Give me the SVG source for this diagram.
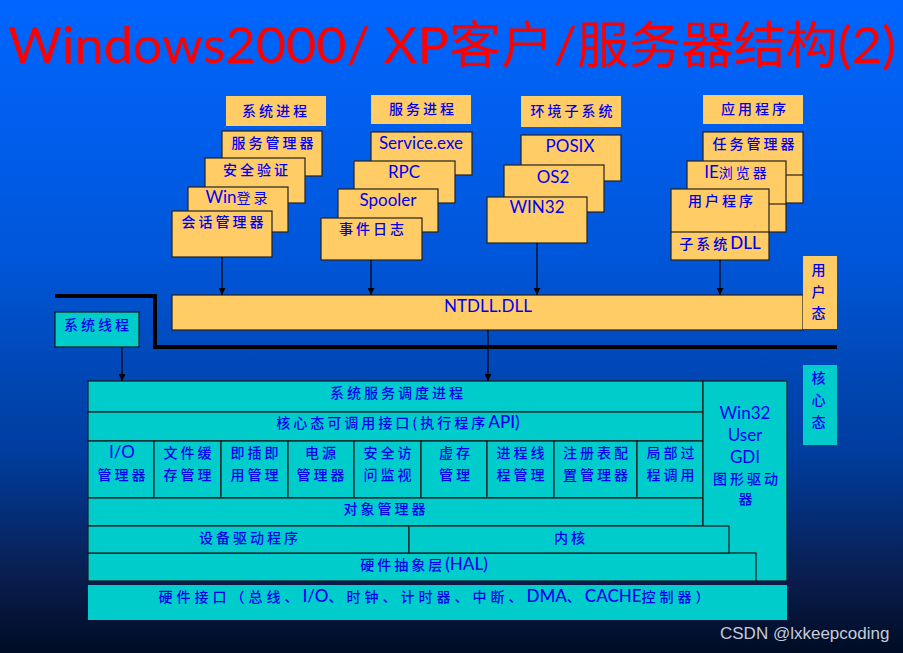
<svg xmlns="http://www.w3.org/2000/svg" width="903" height="653" viewBox="0 0 903 653">
<defs>
<linearGradient id="bg" x1="0" y1="0" x2="0" y2="1">
<stop offset="0" stop-color="#0066ff"/>
<stop offset="0.4" stop-color="#0056d8"/>
<stop offset="0.7" stop-color="#003c9c"/>
<stop offset="0.88" stop-color="#0a1e50"/>
<stop offset="1" stop-color="#000c24"/>
</linearGradient>
<marker id="arr" viewBox="0 0 10 10" refX="10" refY="5" markerWidth="7" markerHeight="7" orient="auto" markerUnits="userSpaceOnUse">
<path d="M0,0 L10,5 L0,10 Z" fill="#000"/>
</marker>
<style>
.y{fill:#ffcc66;stroke:#222;stroke-width:1.2}
.h{fill:#ffcc66}
.c{fill:#00cccc;stroke:#1a1a1a;stroke-width:1.2}
.cn{fill:#00cccc}
.zh{font-family:"Noto Sans CJK SC",sans-serif;font-size:14px;fill:#0000ee;text-anchor:middle;letter-spacing:3px;font-weight:500}
.en{font-family:"Lato","Liberation Sans","Noto Sans CJK SC",sans-serif;font-size:17px;fill:#0000ee;text-anchor:middle}
.lt{font-family:"Lato","Liberation Sans",sans-serif;font-size:17px;letter-spacing:0}
.ln{stroke:#000;stroke-width:1.2;fill:none}
</style>
</defs>
<rect width="903" height="653" fill="url(#bg)"/>
<text x="8" y="63" font-family="Lato,'Liberation Sans','Noto Sans CJK SC',sans-serif" font-size="50" fill="#ff0000" textLength="888" lengthAdjust="spacingAndGlyphs">Windows2000/ XP客户/服务器结构(2)</text>

<g id="sysproc">
<rect class="h" x="226" y="96" width="100" height="30"/>
<text class="zh" x="276" y="116">系统进程</text>
<rect class="y" x="222" y="131" width="100" height="45"/>
<text class="zh" x="274" y="148">服务管理器</text>
<rect class="y" x="205" y="158" width="100" height="45"/>
<text class="zh" x="257" y="175">安全验证</text>
<rect class="y" x="188" y="187" width="100" height="45"/>
<text class="en" x="238" y="203">Win<tspan font-family="Noto Sans CJK SC" font-size="14" letter-spacing="3">登录</tspan></text>
<rect class="y" x="172" y="211" width="100" height="46"/>
<text class="zh" x="224" y="227">会话管理器</text>
</g>

<g id="svcproc">
<rect class="h" x="371" y="95" width="100" height="29"/>
<text class="zh" x="423" y="114">服务进程</text>
<rect class="y" x="371" y="132" width="101" height="43"/>
<text class="en" x="421" y="149">Service.exe</text>
<rect class="y" x="354" y="161" width="101" height="42"/>
<text class="en" x="404" y="178">RPC</text>
<rect class="y" x="338" y="189" width="100" height="43"/>
<text class="en" x="388" y="206">Spooler</text>
<rect class="y" x="321" y="218" width="101" height="42"/>
<text class="zh" x="373" y="234">事件日志</text>
</g>

<g id="envsub">
<rect class="h" x="521" y="96" width="100" height="31"/>
<text class="zh" x="573" y="116">环境子系统</text>
<rect class="y" x="521" y="135" width="100" height="46"/>
<text class="en" x="570" y="152">POSIX</text>
<rect class="y" x="504" y="165" width="100" height="47"/>
<text class="en" x="553" y="183">OS2</text>
<rect class="y" x="487" y="197" width="100" height="46"/>
<text class="en" x="537" y="213">WIN32</text>
</g>

<g id="apps">
<rect class="h" x="703" y="95" width="100" height="29"/>
<text class="zh" x="755" y="114">应用程序</text>
<rect class="y" x="703" y="132" width="100" height="71"/>
<line class="ln" x1="703" y1="175" x2="803" y2="175"/>
<text class="zh" x="755" y="149">任务管理器</text>
<rect class="y" x="687" y="161" width="99" height="71"/>
<line class="ln" x1="687" y1="204" x2="786" y2="204"/>
<text class="en" x="737" y="178">IE<tspan font-family="Noto Sans CJK SC" font-size="14" letter-spacing="3">浏览器</tspan></text>
<rect class="y" x="671" y="189" width="98" height="71"/>
<line class="ln" x1="671" y1="232" x2="769" y2="232"/>
<text class="zh" x="722" y="206">用户程序</text>
<text class="zh" x="720" y="249">子系统<tspan class="lt">DLL</tspan></text>
</g>

<g id="boundary">
<path d="M55,296 H155 V347 H837" fill="none" stroke="#000" stroke-width="4"/>
</g>

<g id="ntdll">
<rect class="y" x="172" y="295" width="631" height="35"/>
<text class="en" x="488" y="312">NTDLL.DLL</text>
</g>

<g id="usermode">
<rect class="h" x="803" y="256" width="34" height="73"/>
<text class="zh" x="820" y="275">用</text>
<text class="zh" x="820" y="297">户</text>
<text class="zh" x="820" y="318">态</text>
</g>

<g id="kernelmode">
<rect class="cn" x="803" y="365" width="34" height="80"/>
<text class="zh" x="820" y="383">核</text>
<text class="zh" x="820" y="405">心</text>
<text class="zh" x="820" y="427">态</text>
</g>

<g id="systhread">
<rect class="c" x="55" y="312" width="84" height="35"/>
<text class="zh" x="98" y="330">系统线程</text>
</g>

<g id="kernel">
<rect class="c" x="88" y="381" width="615" height="31"/>
<text class="zh" x="398" y="398">系统服务调度进程</text>
<rect class="c" x="88" y="412" width="615" height="29"/>
<text class="zh" x="398" y="428">核心态可调用接口(执行程序<tspan class="lt">API)</tspan></text>
<rect class="c" x="88" y="441" width="66" height="57"/>
<rect class="c" x="154" y="441" width="67" height="57"/>
<rect class="c" x="221" y="441" width="67" height="57"/>
<rect class="c" x="288" y="441" width="66" height="57"/>
<rect class="c" x="354" y="441" width="67" height="57"/>
<rect class="c" x="421" y="441" width="66" height="57"/>
<rect class="c" x="487" y="441" width="67" height="57"/>
<rect class="c" x="554" y="441" width="83" height="57"/>
<rect class="c" x="637" y="441" width="66" height="57"/>
<text class="en" x="122" y="458">I/O</text>
<text class="zh" x="123" y="480">管理器</text>
<text class="zh" x="189" y="458">文件缓</text>
<text class="zh" x="189" y="480">存管理</text>
<text class="zh" x="256" y="458">即插即</text>
<text class="zh" x="256" y="480">用管理</text>
<text class="zh" x="322" y="458">电源</text>
<text class="zh" x="322" y="480">管理器</text>
<text class="zh" x="389" y="458">安全访</text>
<text class="zh" x="389" y="480">问监视</text>
<text class="zh" x="456" y="458">虚存</text>
<text class="zh" x="456" y="480">管理</text>
<text class="zh" x="522" y="458">进程线</text>
<text class="zh" x="522" y="480">程管理</text>
<text class="zh" x="597" y="458">注册表配</text>
<text class="zh" x="597" y="480">置管理器</text>
<text class="zh" x="672" y="458">局部过</text>
<text class="zh" x="672" y="480">程调用</text>
<rect class="c" x="88" y="498" width="615" height="28"/>
<text class="zh" x="386" y="514">对象管理器</text>
<rect class="c" x="703" y="381" width="84" height="200"/>
<text class="en" x="745" y="419">Win32</text>
<text class="en" x="745" y="441">User</text>
<text class="en" x="745" y="463">GDI</text>
<text class="zh" x="747" y="484">图形驱动</text>
<text class="zh" x="747" y="504">器</text>
<rect class="c" x="88" y="553" width="668" height="28"/>
<text class="zh" x="424" y="570">硬件抽象层<tspan class="lt">(HAL)</tspan></text>
<rect class="c" x="88" y="526" width="321" height="27"/>
<text class="zh" x="250" y="543">设备驱动程序</text>
<rect class="c" x="409" y="526" width="320" height="27"/>
<text class="zh" x="571" y="543">内核</text>
</g>

<g id="hwif">
<rect class="cn" x="88" y="585" width="699" height="35"/>
<text class="zh" x="436" y="602" style="letter-spacing:4px">硬件接口（总线、<tspan class="lt">I/O</tspan>、时钟、计时器、中断、<tspan class="lt">DMA</tspan>、<tspan class="lt">CACHE</tspan>控制器）</text>
</g>

<g id="connectors">
<line class="ln" x1="222" y1="257" x2="222" y2="295" marker-end="url(#arr)"/>
<line class="ln" x1="371" y1="260" x2="371" y2="295" marker-end="url(#arr)"/>
<line class="ln" x1="537" y1="243" x2="537" y2="295" marker-end="url(#arr)"/>
<line class="ln" x1="720" y1="260" x2="720" y2="295" marker-end="url(#arr)"/>
<line class="ln" x1="122" y1="347" x2="122" y2="381" marker-end="url(#arr)"/>
<line class="ln" x1="488" y1="330" x2="488" y2="381" marker-end="url(#arr)"/>
</g>

<text x="720" y="639" font-family="'Liberation Sans',sans-serif" font-size="17" fill="#c4ccd8">CSDN @lxkeepcoding</text>
</svg>
